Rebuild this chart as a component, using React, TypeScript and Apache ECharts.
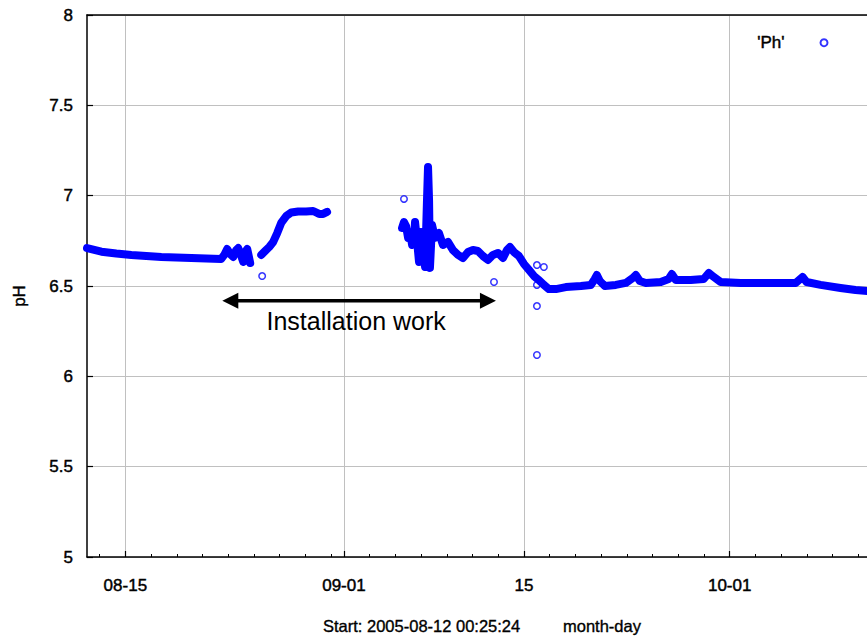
import React, { useEffect, useRef } from 'react';
import * as echarts from 'echarts';

// ---- texts ----
const startLabel = 'Start: 2005-08-12 00:25:24';
const xAxisTitle = 'month-day';
const yAxisTitle = 'pH';
const seriesName = "'Ph'";
const annotationText = 'Installation work';

// ---- x axis: days since 2005-08-12 00:00 ----
const xMin = 0.0176;
const xMax = 60.68;
const majorTickDays = [3, 20, 34, 50];
const majorTickLabels = ['08-15', '09-01', '15', '10-01'];
const minorTickDays = [1, 3, 5, 7, 9, 11, 13, 15, 17, 19, 20, 22, 24, 26, 28, 30, 32, 34, 36, 38, 40, 42, 44, 46, 48, 50, 52, 54, 56, 58, 60];

// ---- y axis ----
const yMin = 5;
const yMax = 8;
const yStep = 0.5;

// ---- data: dense trace segments (days, pH) ----
const segADays = [0.02, 1.14, 2.3, 3.47, 4.63, 5.8, 6.96, 8.13, 9.29, 10.46, 10.69, 10.92, 11.16, 11.39, 11.62, 11.78, 12.01, 12.17, 12.32, 12.48, 12.63, 12.71];
const segAPh = [6.71, 6.69, 6.68, 6.672, 6.666, 6.661, 6.658, 6.655, 6.652, 6.65, 6.672, 6.705, 6.677, 6.661, 6.699, 6.71, 6.666, 6.633, 6.688, 6.705, 6.655, 6.627];

const segBDays = [13.57, 13.88, 14.19, 14.5, 14.81, 15.12, 15.51, 15.9, 16.44, 17.06, 17.61, 18.07, 18.38, 18.69];
const segBPh = [6.672, 6.694, 6.716, 6.744, 6.793, 6.849, 6.887, 6.907, 6.912, 6.912, 6.915, 6.899, 6.899, 6.91];

const segCDays = [24.52, 24.67, 24.83, 24.99, 25.14, 25.3, 25.45, 25.53, 25.68, 25.84, 25.99, 26.15, 26.31, 26.46, 26.54, 26.62, 26.69, 26.85, 27.08, 27.39, 27.7, 28.09, 28.48, 28.87, 29.26, 29.65, 30.04, 30.42, 30.81, 31.2, 31.59, 31.98, 32.37, 32.68, 32.91, 33.22, 33.61, 34.0, 34.39, 34.78, 35.16, 35.55, 35.94, 36.48, 37.26, 38.43, 39.2, 39.51, 39.67, 39.9, 40.29, 41.14, 41.92, 42.46, 42.7, 43.01, 43.48, 44.64, 45.26, 45.5, 45.81, 46.97, 47.98, 48.37, 48.68, 49.3, 50.86, 53.19, 55.13, 55.67, 55.98, 57.07, 58.62, 59.79, 60.72];
const segCPh = [6.821, 6.854, 6.832, 6.766, 6.799, 6.727, 6.766, 6.854, 6.755, 6.633, 6.799, 6.688, 6.605, 6.976, 7.159, 6.976, 6.6, 6.838, 6.766, 6.793, 6.727, 6.744, 6.699, 6.672, 6.655, 6.688, 6.699, 6.694, 6.666, 6.644, 6.672, 6.683, 6.655, 6.699, 6.716, 6.688, 6.666, 6.622, 6.589, 6.555, 6.533, 6.506, 6.483, 6.483, 6.494, 6.5, 6.506, 6.539, 6.561, 6.528, 6.5, 6.506, 6.517, 6.544, 6.561, 6.528, 6.517, 6.522, 6.539, 6.566, 6.533, 6.533, 6.539, 6.572, 6.555, 6.522, 6.517, 6.517, 6.517, 6.55, 6.522, 6.506, 6.489, 6.478, 6.472];

// ---- data: isolated readings ----
const outlierDays = [13.64, 24.67, 31.67, 35.01, 35.55, 35.01, 35.01, 35.01];
const outlierPh = [6.555, 6.982, 6.522, 6.616, 6.605, 6.506, 6.389, 6.118];

// ---- annotation anchor (data coords) ----
const arrowStartDay = 10.54;
const arrowEndDay = 31.82;
const arrowPh = 6.419;
const annotationDay = 20.95;
const annotationPh = 6.306;

const FONT = '"Liberation Sans", Arial, sans-serif';
const BLUE = '#0000ff';
const GRID = '#c0c0c0';
const HEAVY = { textBorderColor: '#000', textBorderWidth: 0.45 };

const zip = (a: number[], b: number[]) => a.map((v, i) => [v, b[i]]);

export default function App() {
  const ref = useRef<HTMLDivElement>(null);
  useEffect(() => {
    if (!ref.current) return;
    const chart = echarts.init(ref.current, undefined, { renderer: 'svg' });
    const lineSeries = (data: number[][]) => ({
      type: 'line',
      name: 'trace',
      xAxisIndex: 0,
      yAxisIndex: 0,
      data,
      showSymbol: false,
      symbol: 'none',
      lineStyle: { color: BLUE, width: 8, cap: 'round', join: 'round' },
      itemStyle: { color: BLUE },
      z: 3,
    });
    const labelFmt = (v: number) => {
      const i = majorTickDays.findIndex((d) => Math.abs(d - v) < 1e-6);
      return i >= 0 ? majorTickLabels[i] : '';
    };
    chart.setOption({
      animation: false,
      backgroundColor: '#fff',
      textStyle: { fontFamily: FONT },
      grid: { left: 87, right: 0, top: 15, bottom: 80 },
      legend: {
        data: [{ name: seriesName }],
        left: 757,
        top: 34,
        padding: 0,
        align: 'right',
        itemWidth: 69,
        itemHeight: 7,
        selectedMode: false,
        textStyle: { fontSize: 17, color: '#000', fontFamily: FONT, ...HEAVY },
      },
      xAxis: [
        {
          type: 'value',
          position: 'bottom',
          min: xMin,
          max: xMax,
          axisLine: { show: true, lineStyle: { color: '#000', width: 1.5 } },
          axisTick: { show: true, inside: true, length: 6, customValues: majorTickDays, lineStyle: { color: '#000', width: 1.2 } },
          axisLabel: { show: true, customValues: majorTickDays, formatter: labelFmt, fontSize: 17, color: '#000', fontFamily: FONT, margin: 20, ...HEAVY },
          splitLine: { show: true, lineStyle: { color: GRID, width: 1 } },
        },
        {
          type: 'value',
          position: 'bottom',
          min: xMin,
          max: xMax,
          axisLine: { show: false },
          axisTick: { show: true, inside: true, length: 3, customValues: minorTickDays, lineStyle: { color: '#000', width: 1 } },
          axisLabel: { show: false },
          splitLine: { show: false },
        },
        {
          type: 'value',
          position: 'top',
          min: xMin,
          max: xMax,
          axisLine: { show: true, lineStyle: { color: '#000', width: 1.5 } },
          axisTick: { show: false },
          axisLabel: { show: false },
          splitLine: { show: false },
        },
      ],
      yAxis: {
        type: 'value',
        min: yMin,
        max: yMax,
        interval: yStep,
        axisLine: { show: true, lineStyle: { color: '#000', width: 1.5 } },
        axisTick: { show: true, inside: true, length: 6, lineStyle: { color: '#000', width: 1.2 } },
        axisLabel: { fontSize: 17, color: '#000', fontFamily: FONT, margin: 14, ...HEAVY },
        splitLine: { show: true, lineStyle: { color: GRID, width: 1 } },
      },
      series: [
        lineSeries(zip(segADays, segAPh)),
        lineSeries(zip(segBDays, segBPh)),
        lineSeries(zip(segCDays, segCPh)),
        {
          type: 'scatter',
          name: seriesName,
          xAxisIndex: 0,
          yAxisIndex: 0,
          data: zip(outlierDays, outlierPh),
          symbol: 'circle',
          symbolSize: 6.5,
          itemStyle: { color: 'rgba(0,0,0,0)', borderColor: BLUE, borderWidth: 1.5 },
          z: 4,
        },
      ],
    });

    const p1 = chart.convertToPixel({ xAxisIndex: 0, yAxisIndex: 0 }, [arrowStartDay, arrowPh]) as number[];
    const p2 = chart.convertToPixel({ xAxisIndex: 0, yAxisIndex: 0 }, [arrowEndDay, arrowPh]) as number[];
    const pt = chart.convertToPixel({ xAxisIndex: 0, yAxisIndex: 0 }, [annotationDay, annotationPh]) as number[];
    const hl = 16;
    const hw = 8;
    chart.setOption({
      graphic: [
        {
          type: 'line',
          shape: { x1: p1[0] + hl - 2, y1: p1[1], x2: p2[0] - hl + 2, y2: p2[1] },
          style: { stroke: '#000', lineWidth: 3.5 },
          z: 10,
        },
        {
          type: 'polygon',
          shape: { points: [[p1[0], p1[1]], [p1[0] + hl, p1[1] - hw], [p1[0] + hl, p1[1] + hw]] },
          style: { fill: '#000' },
          z: 10,
        },
        {
          type: 'polygon',
          shape: { points: [[p2[0], p2[1]], [p2[0] - hl, p2[1] - hw], [p2[0] - hl, p2[1] + hw]] },
          style: { fill: '#000' },
          z: 10,
        },
        {
          type: 'text',
          x: pt[0],
          y: pt[1],
          style: { text: annotationText, fontSize: 25, fontFamily: FONT, fill: '#000', align: 'center', verticalAlign: 'middle' },
          z: 10,
        },
        {
          type: 'text',
          x: 19,
          y: 296,
          rotation: Math.PI / 2,
          style: { text: yAxisTitle, fontSize: 17, fontFamily: FONT, fill: '#000', align: 'center', verticalAlign: 'middle', stroke: '#000', lineWidth: 0.45 },
        },
        {
          type: 'text',
          x: 323,
          y: 626,
          style: { text: startLabel, fontSize: 16.5, fontFamily: FONT, fill: '#000', align: 'left', verticalAlign: 'middle', stroke: '#000', lineWidth: 0.35 },
        },
        {
          type: 'text',
          x: 563,
          y: 626,
          style: { text: xAxisTitle, fontSize: 16.5, fontFamily: FONT, fill: '#000', align: 'left', verticalAlign: 'middle', stroke: '#000', lineWidth: 0.35 },
        },
      ],
    });
    return () => chart.dispose();
  }, []);
  return (
    <div
      ref={ref}
      style={{ position: 'fixed', left: 0, top: 0, width: 867, height: 637, background: '#fff' }}
    />
  );
}
